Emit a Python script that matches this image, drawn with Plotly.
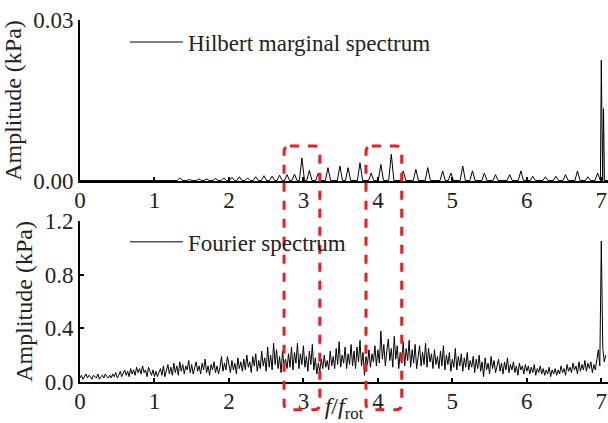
import plotly.graph_objects as go

# ---------------- data ----------------
# Hilbert marginal spectrum: peak frequencies (f/f_rot) and peak amplitudes (kPa)
hilbert_peak_freq = [0.67, 0.80, 0.94, 1.07, 1.20, 1.34, 1.47, 1.60, 1.70, 1.82,
                     1.93, 2.04, 2.14, 2.25, 2.36, 2.47, 2.58, 2.68, 2.78, 2.88,
                     2.98, 3.08, 3.20, 3.33, 3.49, 3.60, 3.76, 3.91, 4.04, 4.18,
                     4.34, 4.51, 4.67, 4.87, 4.98, 5.14, 5.27, 5.43, 5.58, 5.77,
                     5.92, 6.08, 6.25, 6.39, 6.52, 6.68, 6.82, 6.95, 7.00, 7.03]
hilbert_peak_amp = [0.0002, 0.00015, 0.0002, 0.00015, 0.0002, 0.0006, 0.0003, 0.0004, 0.0004, 0.0005,
                    0.0006, 0.0007, 0.0008, 0.0006, 0.0008, 0.0010, 0.0009, 0.0011, 0.0012, 0.0013,
                    0.0043, 0.0020, 0.0015, 0.0025, 0.0028, 0.0025, 0.0034, 0.0015, 0.0031, 0.0050,
                    0.0019, 0.0022, 0.0025, 0.0019, 0.0015, 0.0028, 0.0019, 0.0015, 0.0012, 0.0012,
                    0.0019, 0.0009, 0.0008, 0.0009, 0.0012, 0.0019, 0.0008, 0.0015, 0.0225, 0.0135]
hilbert_baseline = 0.0001

# Fourier spectrum amplitudes (kPa), sampled every 0.02 f/f_rot from 0
fourier_step = 0.02
fourier_amp = [
    0.03, 0.05, 0.02, 0.04, 0.06, 0.03, 0.05, 0.04, 0.02, 0.05,
    0.04, 0.03, 0.06, 0.02, 0.04, 0.05, 0.03, 0.06, 0.04, 0.03,
    0.05, 0.03, 0.06, 0.04, 0.07, 0.03, 0.05, 0.08, 0.04, 0.06,
    0.09, 0.05, 0.08, 0.04, 0.10, 0.06, 0.09, 0.05, 0.11, 0.07,
    0.10, 0.06, 0.12, 0.07, 0.09, 0.04, 0.11, 0.08, 0.05, 0.09,
    0.04, 0.08, 0.04, 0.07, 0.10, 0.05, 0.12, 0.04, 0.09, 0.13,
    0.06, 0.11, 0.05, 0.14, 0.07, 0.12, 0.05, 0.15, 0.08, 0.13,
    0.06, 0.12, 0.09, 0.16, 0.07, 0.13, 0.06, 0.11, 0.15, 0.08,
    0.12, 0.06, 0.14, 0.09, 0.17, 0.07, 0.12, 0.05, 0.13, 0.09,
    0.15, 0.07, 0.12, 0.06, 0.11, 0.19, 0.08, 0.14, 0.09, 0.19,
    0.12, 0.07, 0.16, 0.09, 0.14, 0.06, 0.18, 0.10, 0.15, 0.08,
    0.17, 0.09, 0.20, 0.11, 0.15, 0.07, 0.19, 0.12, 0.21, 0.08,
    0.16, 0.10, 0.23, 0.12, 0.18, 0.08, 0.26, 0.11, 0.20, 0.09,
    0.29, 0.13, 0.24, 0.10, 0.19, 0.07, 0.23, 0.12, 0.17, 0.10,
    0.21, 0.11, 0.26, 0.09, 0.22, 0.14, 0.29, 0.10, 0.21, 0.13,
    0.27, 0.11, 0.19, 0.08, 0.23, 0.13, 0.28, 0.09, 0.18, 0.06,
    0.14, 0.08, 0.17, 0.10, 0.20, 0.11, 0.16, 0.09, 0.23, 0.12,
    0.19, 0.10, 0.25, 0.13, 0.30, 0.11, 0.20, 0.14, 0.26, 0.10,
    0.21, 0.13, 0.28, 0.12, 0.23, 0.10, 0.26, 0.15, 0.31, 0.12,
    0.22, 0.05, 0.19, 0.13, 0.24, 0.11, 0.21, 0.15, 0.27, 0.12,
    0.24, 0.14, 0.38, 0.17, 0.28, 0.12, 0.23, 0.32, 0.16, 0.25,
    0.11, 0.34, 0.17, 0.27, 0.10, 0.22, 0.14, 0.30, 0.12, 0.25,
    0.16, 0.31, 0.11, 0.24, 0.14, 0.28, 0.10, 0.21, 0.27, 0.12,
    0.22, 0.13, 0.29, 0.11, 0.25, 0.15, 0.21, 0.10, 0.24, 0.13,
    0.19, 0.10, 0.23, 0.12, 0.27, 0.09, 0.20, 0.13, 0.22, 0.08,
    0.17, 0.11, 0.25, 0.09, 0.19, 0.12, 0.21, 0.08, 0.18, 0.11,
    0.22, 0.09, 0.16, 0.11, 0.19, 0.07, 0.17, 0.10, 0.20, 0.08,
    0.15, 0.04, 0.18, 0.09, 0.14, 0.06, 0.19, 0.10, 0.16, 0.07,
    0.13, 0.17, 0.08, 0.14, 0.06, 0.15, 0.09, 0.18, 0.07, 0.13,
    0.09, 0.15, 0.07, 0.12, 0.05, 0.14, 0.09, 0.12, 0.06, 0.13,
    0.08, 0.12, 0.06, 0.11, 0.07, 0.13, 0.05, 0.10, 0.07, 0.12,
    0.06, 0.10, 0.05, 0.09, 0.06, 0.11, 0.04, 0.09, 0.06, 0.10,
    0.05, 0.09, 0.06, 0.12, 0.07, 0.10, 0.05, 0.13, 0.08, 0.11,
    0.07, 0.14, 0.09, 0.12, 0.06, 0.15, 0.08, 0.13, 0.09, 0.16,
    0.08, 0.14, 0.10, 0.15, 0.07, 0.13, 0.09, 0.17, 0.24, 0.12,
    1.05, 0.25, 0.15, 0.20,
]

x_tick_vals = [0, 1, 2, 3, 4, 5, 6, 7]
top_y_ticks = [0.00, 0.03]
bottom_y_ticks = [0.0, 0.4, 0.8, 1.2]

# highlighted bands (f/f_rot)
highlight_bands = [(2.74, 3.22), (3.84, 4.32)]

# ---------------- build traces ----------------
fourier_freq = [round(i * fourier_step, 4) for i in range(len(fourier_amp))]

half_w = 0.035
h_x, h_y = [0.0], [hilbert_baseline]
for c, a in zip(hilbert_peak_freq, hilbert_peak_amp):
    w = 0.012 if c >= 6.99 else half_w
    h_x += [c - w, c, c + w]
    h_y += [hilbert_baseline, a, hilbert_baseline]
h_x.append(7.09)
h_y.append(hilbert_baseline)

FONT = "Liberation Serif"
TXT = "#222"
fig = go.Figure()
fig.add_trace(go.Scatter(x=h_x, y=h_y, mode="lines", name="Hilbert marginal spectrum",
                         line=dict(color="black", width=1), xaxis="x", yaxis="y",
                         legend="legend", showlegend=True))
fig.add_trace(go.Scatter(x=fourier_freq, y=fourier_amp, mode="lines", name="Fourier spectrum",
                         line=dict(color="black", width=1), xaxis="x2", yaxis="y2",
                         legend="legend2", showlegend=True))

axis_common = dict(showline=True, linecolor="black", linewidth=2, ticks="inside",
                   ticklen=4, tickwidth=1.5, tickcolor="black", showgrid=False,
                   zeroline=False, tickfont=dict(family=FONT, size=23, color=TXT),
                   mirror=False, ticklabeloverflow="allow", automargin=False)

x_range = [0, 7.09]
ytitle_font = dict(family=FONT, size=24, color=TXT)
fig.update_layout(
    width=608, height=423,
    margin=dict(l=80, r=0, t=20, b=41),
    plot_bgcolor="white", paper_bgcolor="white",
    font=dict(family=FONT, color=TXT),
    showlegend=True,
    xaxis=dict(domain=[0, 1], anchor="y", range=x_range, tickvals=x_tick_vals,
               ticklabelstandoff=-3, **axis_common),
    yaxis=dict(domain=[0.555, 1], anchor="x", range=[0, 0.03], tickvals=top_y_ticks,
               tickformat=".2f",
               title=dict(text="Amplitude (kPa)", font=ytitle_font, standoff=5),
               **axis_common),
    xaxis2=dict(domain=[0, 1], anchor="y2", range=x_range, tickvals=x_tick_vals,
                ticklabelstandoff=-3,
                title=dict(text="<i>f</i>/<i>f</i><sub>rot</sub>", font=dict(family=FONT, size=24, color=TXT),
                           standoff=11),
                **axis_common),
    yaxis2=dict(domain=[0, 0.445], anchor="x2", range=[0, 1.2], tickvals=bottom_y_ticks,
                tickformat=".1f",
                title=dict(text="Amplitude (kPa)", font=ytitle_font, standoff=5),
                **axis_common),
    legend=dict(x=0.085, y=0.939, xanchor="left", yanchor="middle", bgcolor="rgba(0,0,0,0)",
                itemwidth=53, font=dict(family=FONT, size=23, color=TXT)),
    legend2=dict(x=0.085, y=0.387, xanchor="left", yanchor="middle", bgcolor="rgba(0,0,0,0)",
                 itemwidth=53, font=dict(family=FONT, size=23, color=TXT)),
)

# rounded dashed red boxes spanning both panels
rx, ry = 0.08, 0.017
y_top, y_bot = 0.652, -0.077
for x0, x1 in highlight_bands:
    path = (f"M {x0 + rx},{y_top} L {x1 - rx},{y_top} Q {x1},{y_top} {x1},{y_top - ry} "
            f"L {x1},{y_bot + ry} Q {x1},{y_bot} {x1 - rx},{y_bot} "
            f"L {x0 + rx},{y_bot} Q {x0},{y_bot} {x0},{y_bot + ry} "
            f"L {x0},{y_top - ry} Q {x0},{y_top} {x0 + rx},{y_top} Z")
    fig.add_shape(type="path", path=path, xref="x", yref="paper",
                  line=dict(color="#ee1c24", width=3, dash="dash"),
                  fillcolor="rgba(0,0,0,0)", layer="above")

fig.write_html("out.html")
